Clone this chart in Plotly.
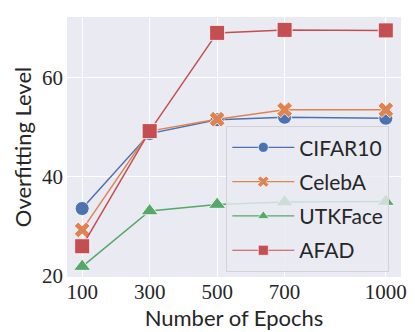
import plotly.graph_objects as go

epochs = [100, 300, 500, 700, 1000]
cifar10 = [33.6, 48.7, 51.5, 52.0, 51.8]
celeba = [29.3, 49.2, 51.6, 53.5, 53.5]
utkface = [21.9, 33.1, 34.4, 34.9, 35.0]
afad = [26.0, 49.2, 69.0, 69.6, 69.5]
y_ticks = [20, 40, 60]

series = [
    ("CIFAR10", cifar10, "#4C72B0", "circle", 14),
    ("CelebA", celeba, "#DD8452", "x", 14),
    ("UTKFace", utkface, "#55A868", "triangle-up", 15),
    ("AFAD", afad, "#C44E52", "square", 15),
]

fig = go.Figure()
for name, vals, color, sym, size in series:
    fig.add_trace(go.Scatter(
        x=epochs, y=vals, mode="lines+markers", name=name,
        legendgroup=name, showlegend=False,
        line=dict(color=color, width=1.5),
        marker=dict(symbol=sym, size=size, color=color,
                    line=dict(color="white", width=0.8)),
    ))
for name, vals, color, sym, size in series:
    fig.add_trace(go.Scatter(
        x=[None], y=[None], mode="lines+markers", name=name,
        legendgroup=name, showlegend=True,
        line=dict(color=color, width=1.2),
        marker=dict(symbol=sym, size=10, color=color,
                    line=dict(color="white", width=0.6)),
    ))

fig.update_layout(
    width=415, height=332,
    margin=dict(l=67, r=8, t=17, b=55),
    paper_bgcolor="white",
    plot_bgcolor="#EAEAF2",
    showlegend=True,
    legend=dict(
        x=0.965, y=0.58, xanchor="right", yanchor="top",
        bgcolor="rgba(234,234,242,0.8)",
        bordercolor="rgb(210,210,215)", borderwidth=1,
        font=dict(family="Lato, DejaVu Sans", size=21, color="#262626"),
        itemwidth=62, tracegroupgap=4,
    ),
    xaxis=dict(
        range=[55, 1045], tickmode="array", tickvals=epochs,
        ticktext=[str(e) for e in epochs],
        showgrid=True, gridcolor="white", gridwidth=1, zeroline=False,
        tickfont=dict(family="Liberation Serif, DejaVu Serif", size=21, color="#262626"),
        title=dict(text="Number of Epochs", standoff=0,
                   font=dict(family="Lato, DejaVu Sans", size=22, color="#262626")),
        ticks="",
    ),
    yaxis=dict(
        range=[19.8, 72.2], tickmode="array", tickvals=y_ticks,
        ticktext=[str(t) for t in y_ticks],
        showgrid=True, gridcolor="white", gridwidth=1, zeroline=False,
        tickfont=dict(family="Liberation Serif, DejaVu Serif", size=21, color="#262626"),
        ticklabelstandoff=3,
        title=dict(text="Overfitting Level", standoff=4,
                   font=dict(family="Lato, DejaVu Sans", size=22, color="#262626")),
        ticks="",
    ),
)

fig.write_html("out.html", config={"displayModeBar": False},
               post_script="document.body.style.margin='0';")
